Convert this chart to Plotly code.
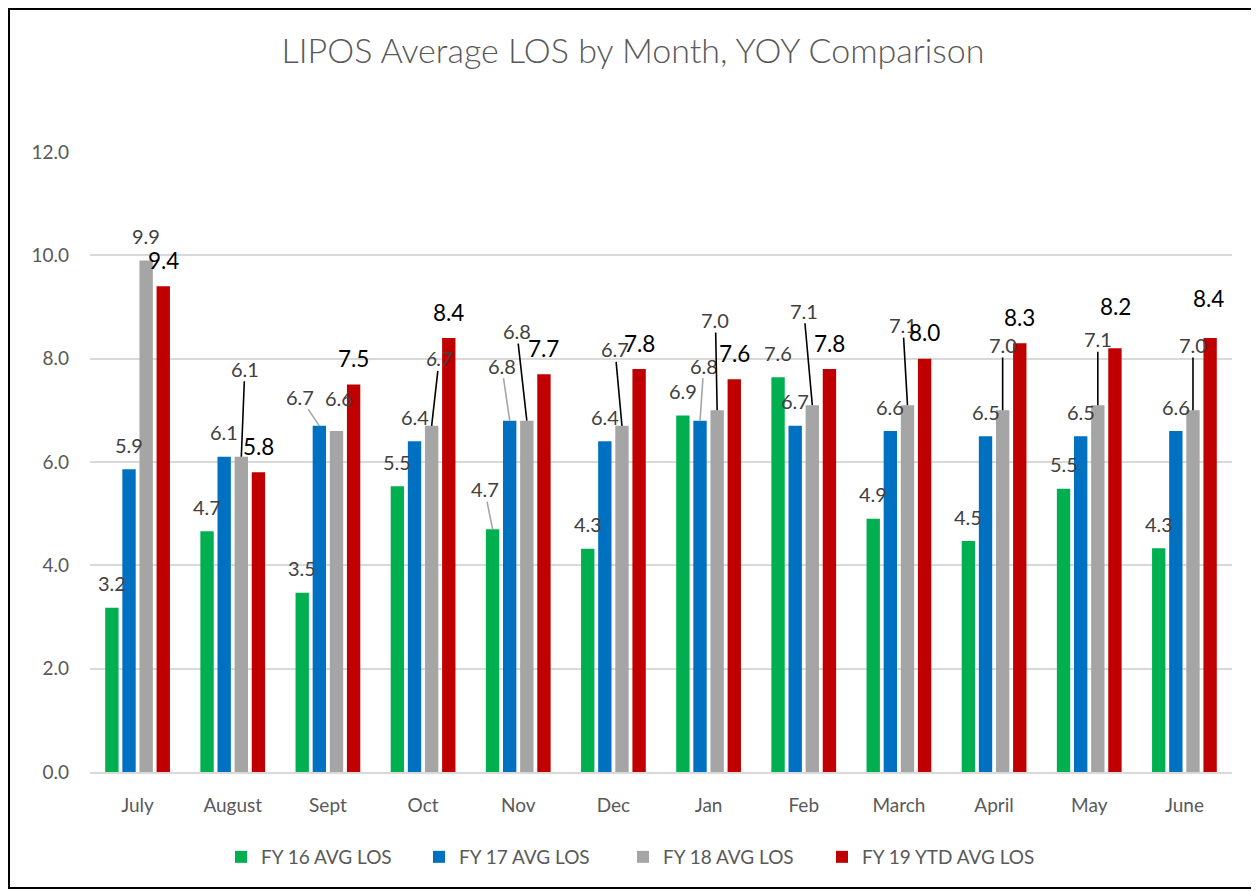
import plotly.graph_objects as go

months = ["July", "August", "Sept", "Oct", "Nov", "Dec", "Jan", "Feb", "March", "April", "May", "June"]
series_names = ["FY 16 AVG LOS", "FY 17 AVG LOS", "FY 18 AVG LOS", "FY 19 YTD AVG LOS"]
fy16 = [3.18, 4.66, 3.47, 5.53, 4.70, 4.32, 6.90, 7.64, 4.90, 4.47, 5.48, 4.33]
fy17 = [5.86, 6.10, 6.70, 6.40, 6.80, 6.40, 6.80, 6.70, 6.60, 6.50, 6.50, 6.60]
fy18 = [9.90, 6.10, 6.60, 6.70, 6.80, 6.70, 7.00, 7.10, 7.10, 7.00, 7.10, 7.00]
fy19 = [9.40, 5.80, 7.50, 8.40, 7.70, 7.80, 7.60, 7.80, 8.00, 8.30, 8.20, 8.40]
y_ticks = [0, 2, 4, 6, 8, 10, 12]

series = [fy16, fy17, fy18, fy19]
colors = ["#00B050", "#0070C0", "#A5A5A5", "#C00000"]

# layout geometry (page offset of 8px from the html body margin is compensated)
W, H = 1259, 891
PAGE_OFF = 8
ML, MR, MT, MB = 90 - PAGE_OFF, 27 + PAGE_OFF, 152 - PAGE_OFF, 119 + PAGE_OFF
BARGAP, BARGROUPGAP = 0.28, 0.22
FONT = "Lato, 'Noto Sans', sans-serif"
legend_symbol_left = [235, 433, 637, 836]   # page px of each legend swatch
LEGEND_SYMBOL_INSET = 14

# manual label placement (pixel offsets from bar top) and leader-line colour
default_dy = [-24.5, -24.5, -24.5, -26]
label_adjust = {
    (0, 4): (-8, -40, "gray"),
    (1, 2): (-19.4, -29, "gray"),
    (1, 4): (-8, -55, "gray"),
    (1, 6): (3.8, -55, "gray"),
    (2, 1): (3.5, -88, "black"),
    (2, 2): (2.7, -33, None),
    (2, 3): (7.6, -67.5, "black"),
    (2, 4): (-10, -89.6, "black"),
    (2, 5): (-7, -76.5, "black"),
    (2, 6): (-1.7, -90.3, "black"),
    (2, 7): (-8.5, -94.4, "black"),
    (2, 8): (-4.6, -80, "black"),
    (2, 9): (0, -65.3, "black"),
    (2, 10): (0, -65.8, "black"),
    (2, 11): (0, -65.3, "black"),
    (3, 10): (0.7, -42.3, None),
    (3, 11): (-2, -39.7, None),
}
italic_labels = {(2, 3)}

legend_ids = ["legend", "legend2", "legend3", "legend4"]

fig = go.Figure()
for name, vals, col, lid in zip(series_names, series, colors, legend_ids):
    fig.add_trace(go.Bar(
        x=months, y=vals, name=name, marker=dict(color=col, line=dict(width=0)),
        hoverinfo="x+y", legend=lid, showlegend=True,
    ))

slot = (1 - BARGAP) / 4
annotations = []
for s, vals in enumerate(series):
    for i, v in enumerate(vals):
        xpos = i + (s - 1.5) * slot
        txt = f"{v:.1f}"
        if (s, i) in italic_labels:
            txt = f"<i>{txt}</i>"
        fnt = dict(family=FONT, size=22.5 if s == 3 else 20,
                   color="#000000" if s == 3 else "#404040")
        if (s, i) in label_adjust:
            dx, dy, leader = label_adjust[(s, i)]
        else:
            dx, dy, leader = 0, default_dy[s], None
        if leader:
            annotations.append(dict(
                x=xpos, y=v, xref="x", yref="y", text=txt, font=fnt,
                showarrow=True, ax=dx, ay=dy, axref="pixel", ayref="pixel",
                arrowhead=0, arrowwidth=1.6, standoff=0, borderpad=0,
                arrowcolor="#000000" if leader == "black" else "#A6A6A6",
            ))
        else:
            annotations.append(dict(
                x=xpos, y=v, xref="x", yref="y", text=txt, font=fnt,
                showarrow=False, xshift=dx, yshift=-dy,
            ))

pw = W - ML - MR
ph = H - MT - MB
def page_to_paper_x(px):
    return (px - PAGE_OFF - ML) / pw
def page_to_paper_y(py):
    return (H - MB - (py - PAGE_OFF)) / ph

legend_layout = {}
for lid, sx in zip(legend_ids, legend_symbol_left):
    legend_layout[lid] = dict(
        orientation="h", x=page_to_paper_x(sx - LEGEND_SYMBOL_INSET), xanchor="left",
        y=page_to_paper_y(857), yanchor="middle",
        font=dict(family=FONT, size=19, color="#595959"),
        itemwidth=30, bgcolor="rgba(0,0,0,0)", visible=True,
    )

fig.update_layout(
    width=W, height=H, showlegend=True,
    margin=dict(l=ML, r=MR, t=MT, b=MB, pad=0),
    paper_bgcolor="white", plot_bgcolor="white",
    barmode="group", bargap=BARGAP, bargroupgap=BARGROUPGAP,
    title=dict(text="LIPOS Average LOS by Month, YOY Comparison",
               x=(633 - PAGE_OFF) / W, xanchor="center",
               y=1 - (51 - PAGE_OFF) / H, yanchor="middle",
               font=dict(family=FONT, size=34, color="#595959", weight=300)),
    font=dict(family=FONT, color="#595959"),
    xaxis=dict(type="category", showgrid=False, showline=True, linecolor="#D9D9D9",
               linewidth=1.5, ticks="", tickfont=dict(family=FONT, size=19, color="#595959"),
               ticklabelstandoff=15, range=[-0.5, 11.5]),
    yaxis=dict(range=[0, 12], tickvals=y_ticks, tickformat=".1f", showgrid=True,
               gridcolor="#D9D9D9", gridwidth=1.5, zeroline=False, showline=False,
               ticks="", tickfont=dict(family=FONT, size=19, color="#595959"),
               ticklabelstandoff=20),
    annotations=annotations,
    shapes=[dict(type="rect", xref="paper", yref="paper",
                 x0=page_to_paper_x(PAGE_OFF + 1), x1=page_to_paper_x(1255),
                 y0=page_to_paper_y(888), y1=page_to_paper_y(PAGE_OFF + 1),
                 line=dict(color="#000000", width=2), fillcolor="rgba(0,0,0,0)",
                 layer="below")],
    **legend_layout,
)

fig.write_html("out.html")
